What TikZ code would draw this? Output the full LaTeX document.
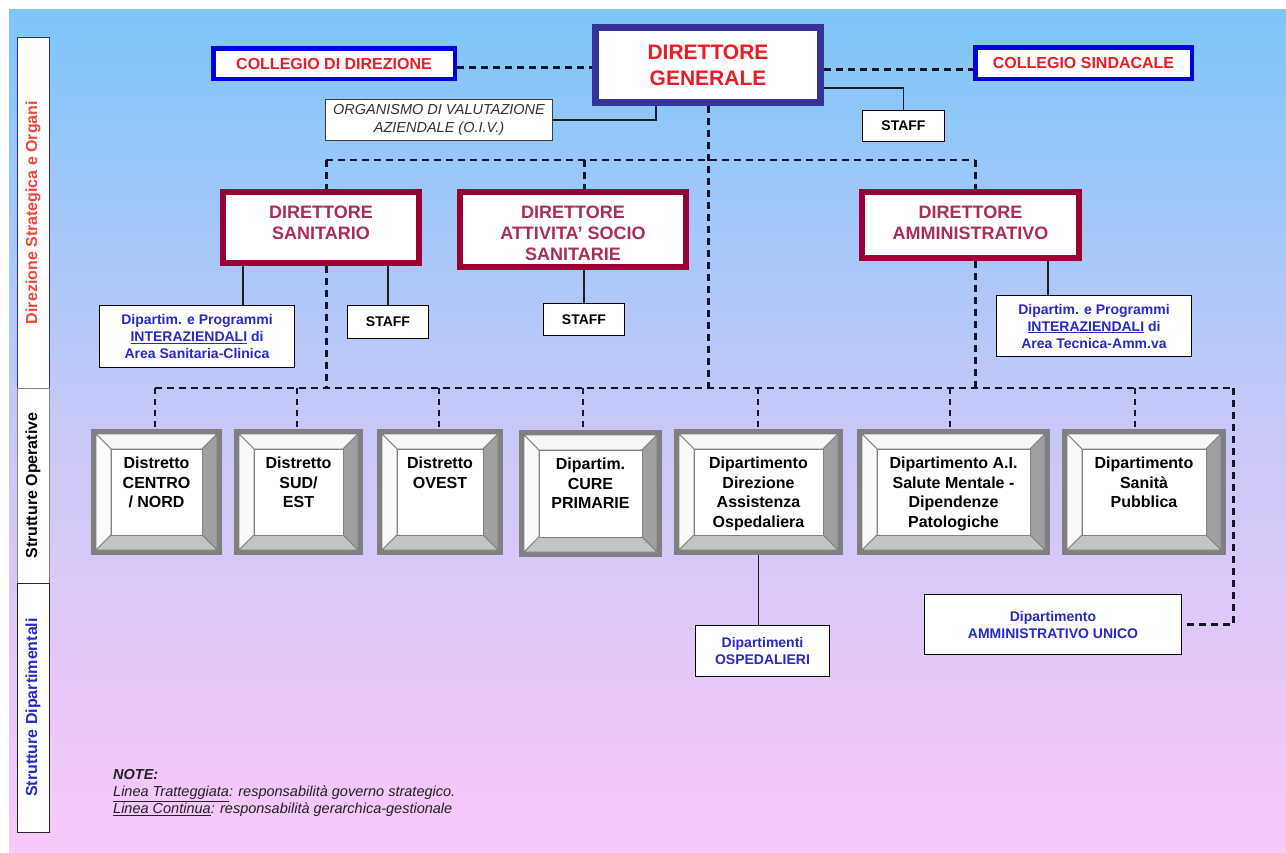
\documentclass[tikz,border=0pt]{standalone}
\usepackage{fontspec}
\setmainfont{Liberation Sans}
\usetikzlibrary{calc}
\definecolor{bgtop}{RGB}{125,198,250}
\definecolor{bgmid}{RGB}{200,200,248}
\definecolor{bgbot}{RGB}{250,200,250}
\definecolor{dgborder}{RGB}{51,51,153}
\definecolor{cborder}{RGB}{0,0,230}
\definecolor{redtxt}{RGB}{236,28,36}
\definecolor{dirborder}{RGB}{153,0,51}
\definecolor{dirtxt}{RGB}{170,45,85}
\definecolor{bluetxt}{RGB}{40,40,200}
\definecolor{sidered}{RGB}{240,70,60}
\definecolor{dashcol}{RGB}{20,20,45}
\definecolor{opframe}{RGB}{128,128,128}
\definecolor{bevtop}{RGB}{246,246,246}
\definecolor{bevleft}{RGB}{250,250,250}
\definecolor{bevright}{RGB}{160,160,160}
\definecolor{bevbot}{RGB}{196,196,196}
\definecolor{notecol}{RGB}{34,34,34}
\tikzset{
  box/.style={draw=black, line width=1pt, fill=white, inner sep=0pt, align=center},
  collegio/.style={draw=cborder, line width=4.5pt, fill=white, inner sep=0pt, text=redtxt,
     font=\fontsize{16}{19}\selectfont\bfseries},
  dgbox/.style={draw=dgborder, line width=7pt, fill=white, inner sep=0pt, align=center, text=redtxt,
     font=\fontsize{21}{26}\selectfont\bfseries},
  dirbox/.style={draw=dirborder, line width=6pt, fill=white, inner sep=0pt, align=center, text=dirtxt,
     font=\fontsize{18}{21}\selectfont\bfseries},
  dirtext/.style={inner sep=0pt, align=center, text=dirtxt, font=\fontsize{18}{21}\selectfont\bfseries},
  staffbox/.style={box, font=\fontsize{14}{17}\selectfont\bfseries},
  bluebox/.style={box, text=bluetxt, font=\fontsize{14}{17}\selectfont\bfseries},
  oivbox/.style={box, draw={rgb,255:red,60;green,60;blue,60}, text={rgb,255:red,50;green,50;blue,50},
     font=\fontsize{14.5}{17.5}\selectfont\itshape},
  optext/.style={inner sep=0pt, align=center, font=\fontsize{16}{19.5}\selectfont\bfseries},
  sidebox/.style={fill=white, line width=1pt, inner sep=0pt, rotate=90,
     font=\fontsize{16}{19}\selectfont\bfseries},
  solidline/.style={draw={rgb,255:red,30;green,30;blue,30}, line width=1.5pt},
  dthick/.style={draw=dashcol, line width=3pt, dash pattern=on 7pt off 5pt},
  dmid/.style={draw=dashcol, line width=2.2pt, dash pattern=on 7pt off 5pt},
  dthin/.style={draw=dashcol, line width=1.6pt, dash pattern=on 6pt off 5pt},
}
\newcommand\opbox[6]{%
  \fill[opframe] (#2,#3) rectangle (#4,#5);
  \filldraw[fill=bevtop, draw=opframe, line width=0.8pt] (#2+5,#3+5) -- (#4-5,#3+5) -- (#4-20,#3+20) -- (#2+20,#3+20) -- cycle;
  \filldraw[fill=bevleft, draw=opframe, line width=0.8pt] (#2+5,#3+5) -- (#2+20,#3+20) -- (#2+20,#5-20) -- (#2+5,#5-5) -- cycle;
  \filldraw[fill=bevright, draw=opframe, line width=0.8pt] (#4-5,#3+5) -- (#4-5,#5-5) -- (#4-20,#5-20) -- (#4-20,#3+20) -- cycle;
  \filldraw[fill=bevbot, draw=opframe, line width=0.8pt] (#2+5,#5-5) -- (#4-5,#5-5) -- (#4-20,#5-20) -- (#2+20,#5-20) -- cycle;
  \filldraw[fill=white, draw=opframe, line width=1pt] (#2+20,#3+20) rectangle (#4-20,#5-20);
  \node[inner sep=0pt, minimum width={#4-#2}, minimum height={#5-#3}] (#1) at ({(#2+#4)/2},{(#3+#5)/2}) {};
  \node[optext, anchor=north] at ([yshift=-28pt]#1.north) {#6};
}
\begin{document}
\begin{tikzpicture}[x=1pt,y=-1pt]
\useasboundingbox (0,0) rectangle (1286,852);
\shade[top color=bgtop, bottom color=bgbot, middle color=bgmid] (9,9) rectangle (1286,852);

% side labels
\node[sidebox, draw={rgb,255:red,40;green,40;blue,200}, minimum width=351pt, minimum height=32pt, text=sidered] (side1) at (33,212.5) {Direzione Strategica e Organi};
\node[sidebox, draw={rgb,255:red,130;green,130;blue,130}, minimum width=195pt, minimum height=32pt, text=black] (side2) at (33,485.5) {Strutture Operative};
\node[sidebox, draw={rgb,255:red,40;green,40;blue,40}, minimum width=249pt, minimum height=32pt, text=bluetxt] (side3) at (33,707.5) {Strutture Dipartimentali};

% top level
\node[dgbox, minimum width=225pt, minimum height=75pt] (dg) at (708,65) {DIRETTORE\\GENERALE};
\node[collegio, minimum width=241.5pt, minimum height=30.5pt] (cdd) at (334,63.5) {COLLEGIO DI DIREZIONE};
\node[collegio, minimum width=216.5pt, minimum height=31.5pt] (cs) at (1083.5,63) {COLLEGIO SINDACALE};
\node[oivbox, minimum width=227pt, minimum height=41pt] (oiv) at (439,120) {ORGANISMO DI VALUTAZIONE\\AZIENDALE (O.I.V.)};
\node[staffbox, minimum width=82pt, minimum height=31pt] (s0) at (903.5,126) {STAFF};

\draw[dthick] ([yshift=-4pt]cdd.east) -- ([yshift=-4pt]cdd.east -| dg.west);
\draw[dthick] ([yshift=-4pt]dg.east) -- ([yshift=-4pt]dg.east -| cs.west);
\draw[solidline] ([xshift=-52pt]dg.south) |- (oiv.east);
\draw[solidline] ([yshift=-23pt]dg.east) -| (s0.north);

% directors
\node[dirbox, minimum width=196pt, minimum height=71pt] (ds) at (321,227.5) {};
\node[dirtext] (dst) at (321,223) {DIRETTORE\\SANITARIO};
\node[dirbox, minimum width=226pt, minimum height=75pt] (das) at (573,229.5) {};
\node[dirtext] (dast) at (573,233) {DIRETTORE\\ATTIVITA’ SOCIO\\SANITARIE};
\node[dirbox, minimum width=217pt, minimum height=66pt] (da) at (970.5,225) {};
\node[dirtext] (dat) at (970.5,223) {DIRETTORE\\AMMINISTRATIVO};

\coordinate (busA) at (708,160);
\coordinate (busB) at (708,388);
\coordinate (tds) at ([xshift=5pt]ds.north);
\coordinate (tdas) at ([xshift=11pt]das.north);
\coordinate (tda) at ([xshift=4.5pt]da.north);
\draw[dthick] (dg.south) -- (busB);
\draw[dmid] (tds |- busA) -- (tda |- busA);
\draw[dthick] (tds |- busA) -- (tds);
\draw[dthick] (tdas |- busA) -- (tdas);
\draw[dthick] (tda |- busA) -- (tda);

% second level boxes
\node[bluebox, minimum width=195pt, minimum height=62pt] (dpl) at (197,336.5) {Dipartim. e Programmi\\\underline{INTERAZIENDALI} di\\Area Sanitaria-Clinica};
\node[staffbox, minimum width=81pt, minimum height=33pt] (s1) at (388,322) {STAFF};
\node[staffbox, minimum width=81pt, minimum height=32pt] (s2) at (584,319.5) {STAFF};
\node[bluebox, minimum width=195pt, minimum height=61pt] (dpr) at (1094,326) {Dipartim. e Programmi\\\underline{INTERAZIENDALI} di\\Area Tecnica-Amm.va};

\coordinate (ds1) at ([xshift=-78pt]ds.south);
\coordinate (ds2) at ([xshift=5pt]ds.south);
\coordinate (ds3) at ([xshift=67pt]ds.south);
\draw[solidline] (ds1) -- (ds1 |- dpl.north);
\draw[solidline] (ds3) -- (ds3 |- s1.north);
\draw[dthick] (ds2) -- (ds2 |- busB);
\coordinate (das1) at ([xshift=11pt]das.south);
\draw[solidline] (das1) -- (das1 |- s2.north);
\coordinate (da1) at ([xshift=77.5pt]da.south);
\coordinate (da2) at ([xshift=4.5pt]da.south);
\draw[solidline] (da1) -- (da1 |- dpr.north);
\draw[dthick] (da2) -- (da2 |- busB);

% operative boxes
\opbox{d1}{91}{429}{222}{555}{Distretto\\CENTRO\\/ NORD}
\opbox{d2}{234}{429}{363}{555}{Distretto\\SUD/\\EST}
\opbox{d3}{377}{429}{503}{555}{Distretto\\OVEST}
\opbox{d4}{519}{430}{662}{557}{Dipartim.\\CURE\\PRIMARIE}
\opbox{d5}{674}{429}{843}{555}{Dipartimento\\Direzione\\Assistenza\\Ospedaliera}
\opbox{d6}{857}{429}{1050}{555}{Dipartimento A.I.\\Salute Mentale -\\Dipendenze\\Patologiche}
\opbox{d7}{1062}{429}{1226}{555}{Dipartimento\\Sanità\\Pubblica}

% bottom boxes
\node[bluebox, minimum width=134pt, minimum height=51pt] (osp) at (762.5,651) {Dipartimenti\\OSPEDALIERI};
\node[bluebox, minimum width=257pt, minimum height=60pt] (amm) at (1053,624.5) {Dipartimento\\AMMINISTRATIVO UNICO};

% bus to operative structures
\coordinate (t1) at ([xshift=-1.5pt]d1.north);
\coordinate (t2) at ([xshift=-1.5pt]d2.north);
\coordinate (t3) at ([xshift=-1pt]d3.north);
\coordinate (t4) at ([xshift=-7.5pt]d4.north);
\coordinate (t5) at ([xshift=-0.5pt]d5.north);
\coordinate (t6) at ([xshift=-3.5pt]d6.north);
\coordinate (t7) at ([xshift=-9pt]d7.north);
\coordinate (cR) at (1233,388);
\draw[dmid] (t1 |- busB) -- (cR);
\foreach \t in {t1,t2,t3,t4,t5,t6,t7} \draw[dthin] (\t |- busB) -- (\t);
\draw[dthick] (cR) |- (amm.east);
\draw[solidline] (d5.south) -- (d5.south |- osp.north);

% notes
\node[anchor=north west, inner sep=0pt, align=left, text=notecol, font=\fontsize{14.5}{17}\selectfont\itshape] (notes) at (113,769)
 {\textbf{NOTE:}\\\underline{Linea Tratteggiata}: responsabilità governo strategico.\\\underline{Linea Continua}: responsabilità gerarchica-gestionale};
\end{tikzpicture}
\end{document}
